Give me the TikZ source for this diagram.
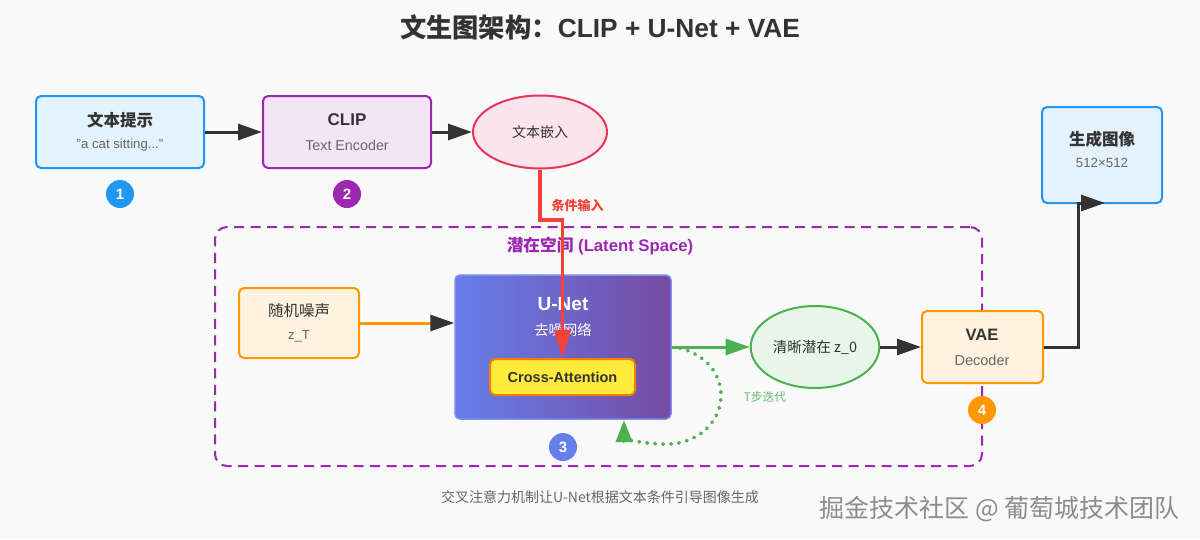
\documentclass[tikz,border=0pt]{standalone}
\usepackage{fontspec}
\setmainfont{Liberation Sans}
\newfontfamily\cjk{Noto Sans CJK SC}
\usetikzlibrary{arrows.meta,shapes.geometric,calc}
\definecolor{bgc}{HTML}{F9F9FA}
\definecolor{txt}{HTML}{333333}
\definecolor{subt}{HTML}{666666}
\definecolor{bluec}{HTML}{2196F3}
\definecolor{bluef}{HTML}{E3F2FD}
\definecolor{purc}{HTML}{9C27B0}
\definecolor{purf}{HTML}{F3E5F5}
\definecolor{pinkc}{HTML}{E8335A}
\definecolor{pinkf}{HTML}{FCE4EC}
\definecolor{redc}{HTML}{F44336}
\definecolor{orc}{HTML}{FF9800}
\definecolor{orf}{HTML}{FFF3E0}
\definecolor{grc}{HTML}{4CAF50}
\definecolor{grf}{HTML}{E8F5E9}
\definecolor{yelf}{HTML}{FFEB3B}
\definecolor{caborder}{HTML}{F57C00}
\definecolor{ulc}{HTML}{667EEA}
\definecolor{urc}{HTML}{764BA2}
\definecolor{ubd}{HTML}{7C8CF0}
\definecolor{wm}{HTML}{8C8C8C}
\newcommand{\fs}[1]{\fontsize{#1}{#1}\selectfont}
\begin{document}
\begin{tikzpicture}[x=1pt,y=-1pt,
  box/.style={draw, line width=2pt, rounded corners=5pt, minimum width=#1, inner sep=0pt},
  box/.default=168pt,
  badge/.style={circle, fill=#1, minimum size=28pt, inner sep=0pt, text=white, font=\fs{15}\bfseries},
  darr/.style={draw=txt, line width=3pt, -{Triangle[length=24pt,width=16pt]}},
  ttl/.style={font=\fs{16.5}\bfseries, text=txt},
  sub/.style={font=\fs{14.5}, text=subt}]
\fill[bgc] (0,0) rectangle (1200,539);
\useasboundingbox (0,0) rectangle (1200,539);

% title
\node[text=txt, font=\fs{26.3}\bfseries] (title) at (600,27) {{\cjk 文生图架构：}CLIP + U-Net + VAE};

% latent space
\node[draw=purc, line width=2pt, dashed, dash pattern=on 10pt off 6.5pt, rounded corners=12pt,
  minimum width=767pt, minimum height=239pt] (latent) at (598.5,346.5) {};
\node[text=purc, font=\fs{16.7}\bfseries] (latlbl) at (600,246) {{\cjk 潜在空间} (Latent Space)};

% text prompt
\node[box, draw=bluec, fill=bluef, minimum height=72pt] (prompt) at (120,132) {};
\node[ttl] (promptT) at (120,120) {\cjk 文本提示};
\node[sub, font=\fs{13.2}] (promptS) at (120,145) {"a cat sitting..."};
\node[badge=bluec] (c1) at (120,194) {1};

% CLIP
\node[box, draw=purc, fill=purf, minimum height=72pt] (clip) at (347,132) {};
\node[ttl, font=\fs{17}\bfseries] (clipT) at (347,120) {CLIP};
\node[sub, font=\fs{14.3}] (clipS) at (347,145) {Text Encoder};
\node[badge=purc] (c2) at (347,194) {2};

% embedding
\node[ellipse, draw=pinkc, fill=pinkf, line width=2pt, minimum width=134pt, minimum height=73pt,
  font=\cjk\fs{14}, text=txt] (emb) at (540,132) {文本嵌入};

% noise
\node[box=120pt, draw=orc, fill=orf, minimum height=70pt] (noise) at (299,323) {};
\node[font=\cjk\fs{15.5}, text=txt] (noiseT) at (299,311) {随机噪声};
\node[sub, font=\fs{13.2}] (noiseS) at (299,336) {z\_T};

% U-Net
\shade[left color=ulc, right color=urc, rounded corners=5pt] (455,275) rectangle (671,419);
\node[draw=ubd, line width=1.5pt, rounded corners=5pt, minimum width=216pt, minimum height=144pt] (unet) at (563,347) {};
\node[text=white, font=\fs{19}\bfseries] (unetT) at (563,304) {U-Net};
\node[text=white, font=\cjk\fs{14.3}] (unetS) at (563,330) {去噪网络};
\node[draw=caborder, fill=yelf, line width=2pt, rounded corners=5pt, minimum width=145pt,
  minimum height=36pt, text=txt, font=\fs{14.5}\bfseries] (cross) at (562.5,377) {Cross-Attention};
\node[badge=ulc] (c3) at (563,447) {3};

% clean latent
\node[ellipse, draw=grc, fill=grf, line width=2pt, minimum width=120pt, minimum height=82pt,
  font=\cjk\fs{14.5}, text=txt] (clean) at (815,347) {清晰潜在 z\_0};
\node[text=grc!85!white, font=\cjk\fs{11.8}] (tlbl) at (765,397) {T步迭代};

% VAE
\node[box=121pt, draw=orc, fill=orf, minimum height=72pt] (vae) at (982.5,347) {};
\node[ttl] (vaeT) at (982,335) {VAE};
\node[sub] (vaeS) at (982,360) {Decoder};
\node[badge=orc] (c4) at (982,410) {4};

% output
\node[box=120pt, draw=bluec, fill=bluef, minimum height=96pt] (out) at (1102,155) {};
\node[ttl] (outT) at (1102,139) {\cjk 生成图像};
\node[sub, font=\fs{13.3}] (outS) at (1102,163) {512×512};

% connectors
\draw[darr] (prompt.east) -- (clip.west);
\draw[darr] (clip.east) -- (emb.west);
\draw[draw=orc, line width=3pt, -{Triangle[length=24pt,width=16pt,color=txt]}] (noise.east) -- (unet.west |- noise.east);
\coordinate (j1) at (540,220);
\coordinate (j2) at (562.5,220);
\draw[draw=redc, line width=3.5pt, -{Triangle[length=28pt,width=16pt]}] (emb.south) -- (j1) -- (j2) -- (cross.north);
\node[text=redc, font=\cjk\fs{13}\bfseries, anchor=west] (cond) at (548,205) {条件输入};
\draw[draw=grc, line width=3pt, -{Triangle[length=24pt,width=16pt]}] (unet.east) -- (clean.west);
\coordinate (ls) at (680,348);
\coordinate (le) at (624,420);
\draw[draw=grc, line width=3.8pt, dash pattern=on 0.5pt off 7.5pt, line cap=round,
  -{Triangle[length=22pt,width=16pt]}]
  (ls) .. controls (745,366) and (728,447) .. (662,444) .. controls (634,443) and (624,437) .. (le);
\draw[darr] (clean.east) -- (vae.west);
\coordinate (k1) at (1078,347);
\coordinate (k2) at (1078,203);
\draw[draw=txt, line width=3pt] (vae.east) -- (k1) -- (k2);
\draw[darr, shorten <=-1.5pt] (k2) -- (1105,203);

% footer
\node[text=subt, font=\cjk\fs{14}] (foot) at (600,497) {交叉注意力机制让U-Net根据文本条件引导图像生成};
\node[text=wm, font=\cjk\fs{25}, anchor=east] (wmk) at (1183,509) {掘金技术社区 @ 葡萄城技术团队};
\end{tikzpicture}
\end{document}
